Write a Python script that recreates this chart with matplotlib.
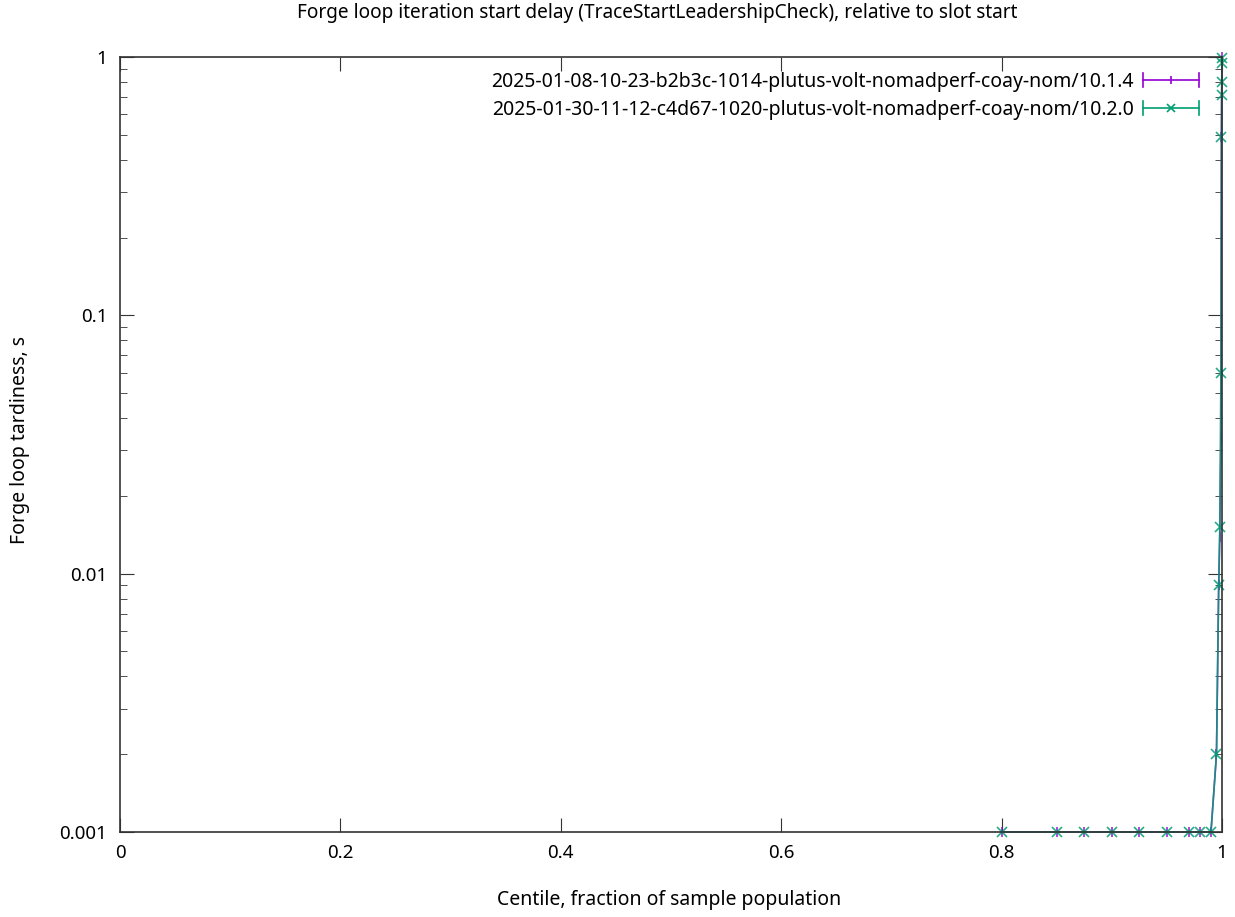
import numpy as np
import matplotlib
matplotlib.use("Agg")
import matplotlib.pyplot as plt
from matplotlib.legend_handler import HandlerBase
from matplotlib.lines import Line2D

plt.rcParams['font.family'] = ['Noto Sans', 'DejaVu Sans']

# centiles and tardiness values (s)
centiles = [0.8, 0.85, 0.875, 0.9, 0.925, 0.95, 0.97, 0.98, 0.99,
            0.995, 0.997, 0.998, 0.999, 0.9995, 0.9997, 0.9998, 0.9999, 1.0]
tardy_1014 = [0.001, 0.001, 0.001, 0.001, 0.001, 0.001, 0.001, 0.001, 0.001,
              0.002, 0.009, 0.0139, 0.0336, 0.49, 0.71, 0.80, 0.905, 1.0]
tardy_1020 = [0.001, 0.001, 0.001, 0.001, 0.001, 0.001, 0.001, 0.001, 0.001,
              0.002, 0.009, 0.0151, 0.0598, 0.49, 0.71, 0.80, 0.946, 0.99]
labels = ["2025-01-08-10-23-b2b3c-1014-plutus-volt-nomadperf-coay-nom/10.1.4",
          "2025-01-30-11-12-c4d67-1020-plutus-volt-nomadperf-coay-nom/10.2.0"]
colors = ["#9400d3", "#009e73"]
markers = ["|", "x"]

title = "Forge loop iteration start delay (TraceStartLeadershipCheck), relative to slot start"
xlabel = "Centile, fraction of sample population"
ylabel = "Forge loop tardiness, s"


# gnuplot-ish legend key: line with caps at the ends and the marker in the middle
class ErrKeyHandler(HandlerBase):
    def create_artists(self, legend, orig, xd, yd, width, height, fontsize, trans):
        c = orig.get_color()
        y = height / 2 - yd
        x0, x1 = -xd, -xd + width
        line = Line2D([x0, x1], [y, y], color=c, lw=1.2, transform=trans)
        cap0 = Line2D([x0, x0], [y - 5, y + 5], color=c, lw=1.2, transform=trans)
        cap1 = Line2D([x1, x1], [y - 5, y + 5], color=c, lw=1.2, transform=trans)
        mk = Line2D([(x0 + x1) / 2], [y], color=c, marker=orig.get_marker(),
                    ms=6, mew=1.2, ls="none", transform=trans)
        return [line, cap0, cap1, mk]


fig = plt.figure(figsize=(12.35, 9.17), dpi=100)
ax = fig.add_axes([120 / 1235, 1 - 832 / 917, 1102 / 1235, 775 / 917])

handles = []
for ys, lab, c, m in zip([tardy_1014, tardy_1020], labels, colors, markers):
    h, = ax.plot(centiles, ys, color=c, marker=m, ms=7, mew=1.2, lw=1.2,
                 clip_on=False, label=lab, alpha=0.85)
    handles.append(h)

ax.set_yscale("log")
ax.set_xlim(0, 1)
ax.set_ylim(0.001, 1)
ax.set_xticks([0, 0.2, 0.4, 0.6, 0.8, 1])
ax.set_xticklabels(["0", "0.2", "0.4", "0.6", "0.8", "1"])
ax.set_yticks([0.001, 0.01, 0.1, 1])
ax.set_yticklabels(["0.001", "0.01", "0.1", "1"])
ax.tick_params(which="both", direction="in", top=True, right=True,
               labelsize=13.5, colors="#333333", labelcolor="black")
ax.tick_params(which="major", length=10, pad=9)
ax.tick_params(which="minor", length=5)
ax.tick_params(axis="x", which="minor", bottom=False, top=False)
for s in ax.spines.values():
    s.set_color("#333333")
    s.set_linewidth(1.2)

fig.text(657 / 1235, 1 - 13 / 917, title, ha="center", va="center", fontsize=13.7)
fig.text(669 / 1235, 1 - 900 / 917, xlabel, ha="center", va="center", fontsize=14)
fig.text(20 / 1235, 1 - 440 / 917, ylabel, ha="center", va="center",
         rotation=90, fontsize=14)

ax.legend(handles=handles, handler_map={h: ErrKeyHandler() for h in handles},
          loc="upper right", bbox_to_anchor=(0.979, 0.981), frameon=False,
          borderaxespad=0, borderpad=0,
          fontsize=14, markerfirst=False, handlelength=2.85,
          handletextpad=0.5, labelspacing=0.4)

fig.savefig("out.png", dpi=100)
